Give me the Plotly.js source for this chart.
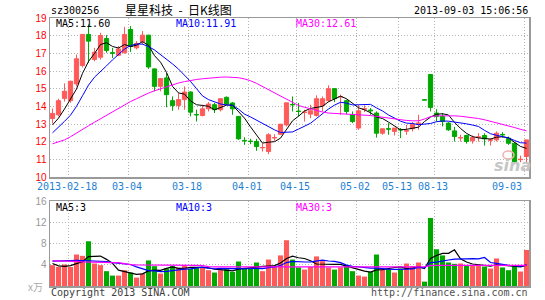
<!DOCTYPE html>
<html><head><meta charset="utf-8">
<script src="https://cdn.plot.ly/plotly-3.0.1.min.js"></script>
<style>html,body{margin:0;padding:0;background:#fff;overflow:hidden}#chart{width:545px;height:300px}</style>
</head><body><div id="chart"></div>
<script>
// ---- texts ----
const stockCode = 'sz300256';
const chartTitle = '星星科技\u00a0\u00a0-\u00a0\u00a0日K线图';
const stamp = '2013-09-03 15:06:56';
const priceLegend = ['MA5:11.60', 'MA10:11.91', 'MA30:12.61'];
const volLegend = ['MA5:3', 'MA10:3', 'MA30:3'];
const volUnit = 'x万';
const copyright = 'Copyright 2013 SINA.COM';
const siteUrl = 'http://finance.sina.com.cn';

// ---- date ticks (candle index -> label) ----
const tickIdx = [3, 13, 23, 33, 41, 51, 58, 64, 79];
const tickText = ['2013-02-18', '03-04', '03-18', '04-01', '04-15', '05-02', '05-13', '08-13', '09-03'];
const priceTicks = [10, 11, 12, 13, 14, 15, 16, 17, 18, 19];
const volTicks = [4, 8, 12, 16];

// ---- daily OHLC ----
const openP = [13.31,13.52,14.45,14.32,15.27,16.31,18.07,16.65,16.78,17.84,
17.03,16.89,17.03,18.35,17.31,17.65,18.03,16.12,15.13,15.61,
14.32,14.05,14.38,14.81,13.54,13.48,13.86,14.09,13.81,14.51,
14.19,13.43,12.07,12.03,12.01,11.65,11.44,12.21,12.42,12.95,
14.11,13.73,13.65,13.56,13.48,14.05,14.32,15.00,14.54,14.32,
13.52,12.77,13.84,13.79,13.62,12.48,12.73,12.58,12.69,12.60,
12.73,13.03,14.37,15.80,13.62,13.43,13.05,12.61,12.21,12.35,
12.05,12.25,12.35,12.08,12.10,12.41,12.20,11.91,10.98,11.16];
const highP = [13.88,14.43,15.30,15.45,16.93,18.10,18.64,17.31,18.16,18.03,
17.31,17.41,18.50,18.54,17.69,18.26,18.05,16.14,15.60,15.89,
14.56,14.75,15.13,14.85,13.81,14.09,14.24,14.19,14.47,14.56,
14.24,13.43,12.25,12.16,12.16,11.91,12.48,12.42,12.99,14.20,
14.56,14.19,13.81,14.09,14.62,14.56,15.19,15.02,14.66,14.38,
13.71,14.09,14.05,13.90,13.71,12.73,13.05,12.77,12.77,12.95,
13.11,13.52,14.37,15.80,13.84,13.62,13.11,12.84,12.39,12.39,
12.35,12.48,12.48,12.20,12.58,12.54,12.29,11.97,11.21,12.10];
const lowP = [13.03,13.43,14.27,14.20,15.13,16.20,16.46,16.55,16.65,17.03,
16.74,16.84,16.99,17.08,17.22,17.50,16.12,14.85,14.85,13.94,
13.75,13.81,13.81,13.43,13.14,13.43,13.71,13.62,13.71,14.09,
13.52,12.10,11.82,11.86,11.48,11.44,11.29,12.05,12.39,12.86,
13.71,13.43,13.14,13.33,13.43,13.71,14.24,14.24,13.52,13.56,
13.05,12.67,13.67,13.52,12.23,12.39,12.39,12.35,12.20,12.39,
12.58,12.67,14.36,13.71,13.14,12.86,12.61,12.01,12.01,11.89,
11.89,12.01,11.78,11.78,12.01,12.23,11.82,10.83,10.83,10.83];
const closeP = [13.60,14.32,14.85,15.42,16.69,18.07,17.69,17.06,18.01,17.16,
17.01,17.25,18.07,17.40,17.56,18.03,16.23,15.13,15.57,14.66,
14.05,14.38,14.81,13.67,13.52,13.86,14.13,13.81,14.43,14.13,
13.86,12.16,12.05,12.01,11.72,11.67,12.39,12.23,12.99,14.20,
14.09,13.71,13.67,13.75,14.43,14.43,15.00,14.43,14.56,13.71,
13.14,13.75,13.86,13.75,12.48,12.73,12.71,12.77,12.67,12.62,
12.99,13.05,14.36,13.94,13.43,13.14,12.67,12.29,12.23,12.01,
12.23,12.27,12.16,12.10,12.48,12.39,11.91,10.87,11.00,12.10];

// ---- price moving averages ----
const ma5 = [12.95,13.33,13.85,14.45,14.98,15.87,16.54,16.99,17.50,17.60,
17.39,17.30,17.50,17.38,17.46,17.66,17.46,16.87,16.50,15.92,
15.13,14.76,14.69,14.31,14.09,14.05,14.00,13.80,13.95,14.07,
14.07,13.68,13.33,12.84,12.36,11.92,11.97,12.00,12.20,12.70,
13.18,13.44,13.73,13.88,13.93,14.00,14.26,14.41,14.57,14.43,
14.17,13.92,13.80,13.64,13.40,13.31,13.11,12.89,12.67,12.70,
12.75,12.82,13.14,13.39,13.55,13.58,13.51,13.09,12.75,12.47,
12.29,12.21,12.18,12.15,12.25,12.28,12.21,11.95,11.73,11.62];
const ma10 = [12.50,12.80,13.15,13.50,14.00,14.60,15.20,15.65,16.00,16.29,
16.63,16.92,17.24,17.44,17.53,17.52,17.38,17.19,16.94,16.69,
16.40,16.11,15.78,15.41,15.00,14.59,14.38,14.25,14.13,14.08,
14.06,13.84,13.56,13.40,13.22,13.00,12.82,12.67,12.52,12.53,
12.55,12.71,12.87,13.04,13.31,13.59,13.85,14.07,14.23,14.18,
14.08,14.09,14.11,14.11,13.91,13.74,13.51,13.35,13.16,13.05,
13.03,12.96,13.01,13.03,13.13,13.17,13.16,13.12,13.07,13.01,
12.94,12.86,12.64,12.45,12.36,12.28,12.21,12.07,11.94,11.92];
const ma30 = [11.88,11.98,12.10,12.28,12.50,12.70,12.90,13.10,13.30,13.50,
13.70,13.88,14.10,14.27,14.43,14.60,14.75,14.88,15.00,15.12,
15.22,15.32,15.40,15.47,15.52,15.56,15.60,15.63,15.65,15.66,
15.65,15.62,15.55,15.45,15.30,15.12,14.95,14.75,14.55,14.40,
14.20,14.05,13.95,13.85,13.76,13.68,13.62,13.60,13.58,13.57,
13.56,13.55,13.52,13.48,13.43,13.38,13.34,13.28,13.24,13.20,
13.18,13.18,13.28,13.42,13.46,13.47,13.47,13.46,13.44,13.41,
13.36,13.31,13.24,13.16,13.08,13.00,12.90,12.80,12.70,12.61];

// ---- volume (x万) ----
const volume = [3.94,3.60,4.06,3.60,5.97,5.70,8.44,4.25,3.94,2.80,
1.97,1.97,2.98,2.54,1.59,2.35,4.83,3.75,2.35,3.30,
3.75,3.43,3.94,3.24,3.60,3.43,2.98,2.54,2.98,3.17,
2.67,4.63,3.30,3.30,4.44,2.80,5.00,3.75,5.78,8.63,
5.00,3.50,3.10,3.60,5.59,4.70,3.50,3.10,3.50,3.94,
2.80,1.97,1.78,2.67,5.97,3.10,3.17,2.54,3.30,4.25,
3.75,4.44,0.83,12.83,6.92,5.78,4.44,4.19,4.25,3.94,
3.94,3.94,3.68,3.30,5.20,3.50,2.98,3.75,2.73,6.79];
const vma5 = [4.25,3.80,3.70,3.85,4.23,4.59,5.55,5.59,5.66,5.03,
4.28,2.99,2.73,2.45,2.21,2.29,2.86,3.01,2.97,3.32,
3.60,3.32,3.35,3.53,3.59,3.53,3.44,3.16,3.11,3.02,
2.87,3.20,3.35,3.41,3.67,3.69,3.77,3.86,4.35,5.19,
5.63,5.33,5.20,4.77,4.16,4.10,4.10,4.10,4.08,3.75,
3.37,3.06,2.80,2.63,3.04,3.10,3.34,3.49,3.62,3.27,
3.40,3.66,3.31,5.22,5.75,6.16,6.16,6.83,5.12,4.52,
4.15,4.05,3.95,3.76,4.01,3.92,3.73,3.75,3.63,3.95];
const vma10 = [4.70,4.70,4.75,4.80,4.85,4.80,4.75,4.70,4.65,4.63,
4.43,4.27,4.16,4.06,3.62,3.28,2.92,2.87,2.71,2.76,
2.94,3.09,3.18,3.25,3.45,3.56,3.38,3.26,3.32,3.31,
3.20,3.32,3.25,3.26,3.34,3.28,3.48,3.60,3.88,4.43,
4.66,4.55,4.53,4.56,4.68,4.87,4.72,4.65,4.42,3.95,
3.73,3.58,3.45,3.36,3.39,3.23,3.20,3.14,3.12,3.16,
3.25,3.50,3.40,4.42,4.51,4.78,4.91,5.07,5.17,5.14,
5.16,5.11,5.39,4.44,4.27,4.04,3.89,3.85,3.70,3.98];
const vma30 = [4.75,4.75,4.72,4.70,4.65,4.55,4.50,4.45,4.45,4.45,
4.42,4.40,4.20,4.05,4.00,4.00,3.98,3.97,3.95,3.95,
3.94,3.94,3.93,3.92,3.90,3.85,3.65,3.60,3.60,3.58,
3.57,3.56,3.55,3.55,3.55,3.52,3.52,3.50,3.50,3.55,
3.60,3.60,3.60,3.62,3.62,3.62,3.62,3.62,3.62,3.62,
3.62,3.62,3.60,3.60,3.60,3.60,3.60,3.60,3.60,3.60,
3.62,3.62,3.65,3.85,3.88,3.88,3.88,3.88,3.88,3.88,
3.88,3.88,3.88,3.88,3.90,3.90,3.90,3.90,3.90,3.90];

// ---- styling ----
const RED = '#ff5a5a', GREEN = '#00a800';
const BLUE = '#0000ff', MAGENTA = '#ff00ff';
const MONO = 'DejaVu Sans Mono', SANS = 'Liberation Sans', CJK = 'Noto Sans CJK SC';
const L = 50, R = 529, TOP = 18, BOT = 286;       // plot box in pixels
const pX = v => (v - L) / (R - L);
const pY = v => (BOT - v) / (BOT - TOP);
const gridPos = tickIdx.map(d => d - 0.33);

const idx = closeP.map((_, i) => i);
const volColors = closeP.map((c, i) => (c >= openP[i] ? RED : GREEN));

const line = (y, color, xa, ya, w) => ({
  type: 'scatter', mode: 'lines', x: idx, y, xaxis: xa, yaxis: ya,
  line: { color, width: w || 1 }, hoverinfo: 'skip'
});

const data = [
  { type: 'candlestick', x: idx, open: openP, high: highP, low: lowP, close: closeP,
    xaxis: 'x', yaxis: 'y', whiskerwidth: 0, hoverinfo: 'skip',
    increasing: { line: { color: RED, width: 1 }, fillcolor: RED },
    decreasing: { line: { color: GREEN, width: 1 }, fillcolor: GREEN } },
  line(ma5, '#000000', 'x', 'y'),
  line(ma10, BLUE, 'x', 'y'),
  line(ma30, MAGENTA, 'x', 'y'),
  { type: 'bar', x: idx, y: volume, xaxis: 'x2', yaxis: 'y2',
    marker: { color: volColors, line: { width: 0 } }, hoverinfo: 'skip' },
  line(vma5, '#000000', 'x2', 'y2', 1.2),
  line(vma10, BLUE, 'x2', 'y2', 1.2),
  line(vma30, MAGENTA, 'x2', 'y2', 1.2)
];

const xRange = [(L - 52.5) / 6, (R - 52.5) / 6];
const axBox = { showline: true, mirror: true, linecolor: '#9a9a9a', linewidth: 1.5,
  zeroline: false, fixedrange: true, gridcolor: '#b4b4b4', griddash: '1px,2px', gridwidth: 1 };

const ann = [];
const note = (text, x, y, anchor, color, size, family) => ann.push({
  text, xref: 'paper', yref: 'paper', x: pX(x), y: pY(y), xanchor: anchor, yanchor: 'middle',
  showarrow: false, borderpad: 0, font: { family, size, color }
});
note(stockCode, 50, 10.5, 'left', '#000', 10, MONO);
note(chartTitle, 178.5, 9.5, 'center', '#000', 12, CJK);
note(stamp, 529, 10.5, 'right', '#000', 10, MONO);
[ '#000000', BLUE, MAGENTA ].forEach((c, k) => {
  note(priceLegend[k], 55 + 120 * k, 24, 'left', c, 10, MONO);
  note(volLegend[k], 55 + 120 * k, 207, 'left', c, 10, MONO);
});
note(volUnit, 44, 286.5, 'right', '#aaaaaa', 10, CJK);
note(copyright, 50, 292.5, 'left', '#404040', 10, MONO);
note(siteUrl, 529, 292.5, 'right', '#505050', 10, MONO);
// date labels
tickText.forEach((t, k) => {
  const last = k === tickText.length - 1;
  ann.push({ text: t, xref: 'x', yref: 'paper', x: gridPos[k], y: pY(186.5),
    xanchor: last ? 'right' : 'center', xshift: -1.5,
    yanchor: 'middle', showarrow: false, borderpad: 0,
    font: { family: MONO, size: 10, color: '#1e7fd2' } });
});
// sina watermark
ann.push({ text: '<b><i>sina</i></b>', xref: 'paper', yref: 'paper', x: pX(512), y: pY(165),
  xanchor: 'center', yanchor: 'middle', showarrow: false, borderpad: 0,
  font: { family: 'DejaVu Sans', size: 16, color: '#c6c6c6' } });

const layout = {
  width: 545, height: 300, margin: { l: L, r: 545 - R, t: TOP, b: 300 - BOT, pad: 0 },
  paper_bgcolor: '#ffffff', plot_bgcolor: '#ffffff', showlegend: false,
  boxgap: 0.3, boxgroupgap: 0, bargap: 0.15,
  xaxis: Object.assign({}, axBox, { domain: [0, 1], anchor: 'y', range: xRange,
    tickmode: 'array', tickvals: gridPos, showticklabels: false, ticks: '', showgrid: true,
    rangeslider: { visible: false } }),
  yaxis: Object.assign({}, axBox, { domain: [pY(177), 1], anchor: 'x', range: [10, 19],
    tickmode: 'array', tickvals: priceTicks, ticktext: priceTicks.map(String), ticks: '',
    showgrid: true, tickfont: { family: SANS, size: 10, color: '#ff0000' } }),
  xaxis2: Object.assign({}, axBox, { domain: [0, 1], anchor: 'y2', range: xRange,
    tickmode: 'array', tickvals: gridPos, showticklabels: false, ticks: '', showgrid: true }),
  yaxis2: Object.assign({}, axBox, { domain: [0, pY(201.3)], anchor: 'x2', range: [0, 16],
    tickmode: 'array', tickvals: volTicks, ticktext: volTicks.map(String), ticks: '',
    showgrid: true, tickfont: { family: SANS, size: 10, color: '#999999' } }),
  shapes: [
    { type: 'circle', xref: 'paper', yref: 'paper', x0: pX(503), x1: pX(514), y0: pY(159), y1: pY(151),
      line: { color: '#f2b0b0', width: 1.5 } }
  ],
  annotations: ann
};

Plotly.newPlot('chart', data, layout, { staticPlot: true, displayModeBar: false });
</script></body></html>
